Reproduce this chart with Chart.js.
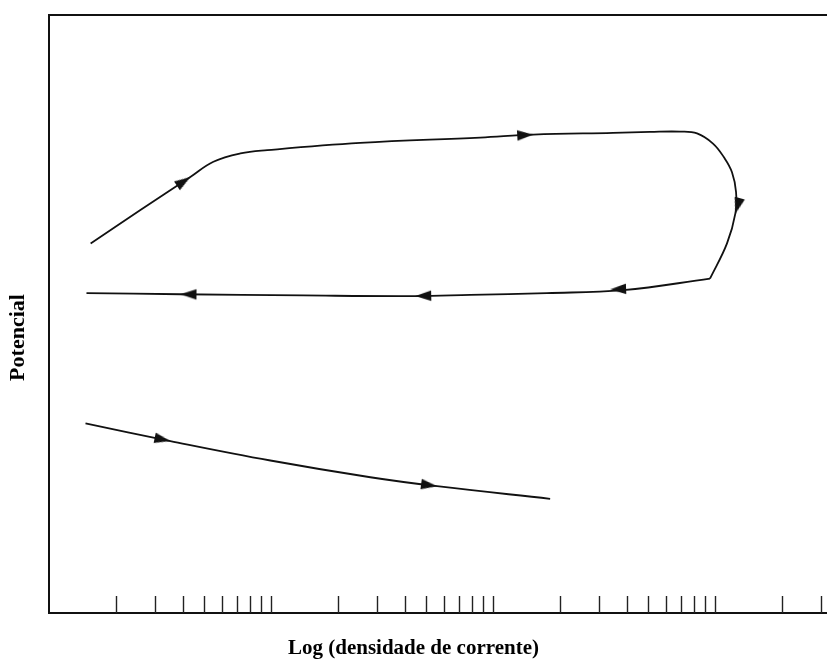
<!DOCTYPE html>
<html>
<head>
<meta charset="utf-8">
<script src="https://cdn.jsdelivr.net/npm/chart.js@4/dist/chart.umd.min.js"></script>
<style>
  html, body { margin: 0; padding: 0; background: #ffffff; overflow: hidden; }
  #wrap { width: 827px; height: 660px; overflow: hidden; }
  #chart { display: block; }
</style>
</head>
<body>
<div id="wrap"><canvas id="chart" width="827" height="660"></canvas></div>
<script>
// Polarisation curves: current density (log axis) vs potential (arbitrary units)

// Anodic forward sweep (rises, passive plateau, turns down at the reversal)
const forwardI = [1.54, 2.58, 4.33, 5.50, 7.28, 9.62, 25.2, 87.5, 151.6, 347, 509, 695, 829, 978, 1096, 1191, 1242, 1235, 1131, 948];
const forwardE = [0.618, 0.674, 0.729, 0.7545, 0.7685, 0.774, 0.786, 0.795, 0.800, 0.803, 0.8045, 0.805, 0.802, 0.785, 0.762, 0.737, 0.704, 0.669, 0.618, 0.559];

// Reverse sweep back towards low current density
const reverseI = [948, 386, 174.6, 78.9, 44.6, 13.97, 3.91, 1.475];
const reverseE = [0.559, 0.540, 0.535, 0.532, 0.530, 0.531, 0.533, 0.535];

// Lower (cathodic) branch
const cathodicI = [1.46, 3.52, 9.93, 28.0, 55.9, 180.7];
const cathodicE = [0.317, 0.2875, 0.255, 0.227, 0.212, 0.191];

// Arrow tips showing the sweep direction, and the curve each one sits on
const arrowI = [4.33, 151.6, 1235, 336.5, 44.6, 3.91, 3.52, 55.9];
const arrowE = [0.729, 0.800, 0.668, 0.541, 0.530, 0.533, 0.2875, 0.212];
const arrowCurve = [0, 0, 0, 1, 1, 1, 2, 2];

// Minor tick marks along the current-density axis
const axisTicks = [2, 3, 4, 5, 6, 7, 8, 9, 10,
                   20, 30, 40, 50, 60, 70, 80, 90, 100,
                   200, 300, 400, 500, 600, 700, 800, 900, 1000,
                   2000, 3000];

const xMin = 1, xMax = 3190;
const yMin = 0, yMax = 1;

const toPoints = (xs, ys) => xs.map((v, i) => ({ x: v, y: ys[i] }));

const INK = '#111111';

// Arrowhead sprite: tip sits at the sprite centre, body trails to the left
function makeArrow() {
  const c = document.createElement('canvas');
  c.width = 34; c.height = 12;
  const g = c.getContext('2d');
  g.fillStyle = INK;
  g.beginPath();
  g.moveTo(17, 6);
  g.lineTo(1, 0.8);
  g.lineTo(1, 11.2);
  g.closePath();
  g.fill();
  return c;
}
const arrowSprite = makeArrow();

// Orientation of an arrow = direction of the nearest curve segment on screen
function arrowAngle(ctx) {
  const chart = ctx.chart;
  const i = ctx.dataIndex;
  const xs = chart.scales.x, ys = chart.scales.y;
  if (!xs || !ys) return 0;
  const curve = chart.data.datasets[arrowCurve[i]].data;
  const px = xs.getPixelForValue(arrowI[i]);
  const py = ys.getPixelForValue(arrowE[i]);
  let best = Infinity, ang = 0;
  for (let k = 0; k < curve.length - 1; k++) {
    const ax = xs.getPixelForValue(curve[k].x), ay = ys.getPixelForValue(curve[k].y);
    const bx = xs.getPixelForValue(curve[k + 1].x), by = ys.getPixelForValue(curve[k + 1].y);
    const dx = bx - ax, dy = by - ay;
    const L2 = dx * dx + dy * dy || 1;
    let t = ((px - ax) * dx + (py - ay) * dy) / L2;
    t = Math.max(0, Math.min(1, t));
    const d = Math.hypot(ax + t * dx - px, ay + t * dy - py);
    if (d < best) { best = d; ang = Math.atan2(dy, dx) * 180 / Math.PI; }
  }
  return ang;
}

// Short inward tick marks on the bottom axis
const axisTickMarks = {
  id: 'axisTickMarks',
  afterDatasetsDraw(chart) {
    const { ctx, chartArea, scales } = chart;
    const xs = scales.x;
    ctx.save();
    ctx.strokeStyle = '#222';
    ctx.lineWidth = 1.4;
    ctx.beginPath();
    axisTicks.forEach(v => {
      const px = Math.round(xs.getPixelForValue(v)) + 0.5;
      ctx.moveTo(px, chartArea.bottom);
      ctx.lineTo(px, chartArea.bottom - 17);
    });
    ctx.stroke();
    ctx.restore();
  }
};

const lineStyle = {
  borderColor: INK,
  borderWidth: 1.8,
  pointRadius: 0,
  tension: 0.4,
  fill: false,
  showLine: true
};

new Chart(document.getElementById('chart'), {
  type: 'line',
  data: {
    datasets: [
      Object.assign({ label: 'Varredura direta', data: toPoints(forwardI, forwardE) }, lineStyle),
      Object.assign({ label: 'Varredura reversa', data: toPoints(reverseI, reverseE) }, lineStyle),
      Object.assign({ label: 'Ramo catódico', data: toPoints(cathodicI, cathodicE) }, lineStyle),
      {
        label: 'Sentido',
        data: toPoints(arrowI, arrowE),
        showLine: false,
        pointStyle: arrowSprite,
        pointRadius: 5,
        pointRotation: arrowAngle,
        borderColor: INK,
        backgroundColor: INK
      }
    ]
  },
  plugins: [axisTickMarks],
  options: {
    responsive: false,
    animation: false,
    devicePixelRatio: 1,
    events: [],
    clip: false,
    layout: { autoPadding: false, padding: { top: 15, right: 0, bottom: 0, left: 0 } },
    scales: {
      x: {
        type: 'logarithmic',
        position: 'bottom',
        min: xMin, max: xMax,
        grid: { display: false, drawTicks: false },
        ticks: { display: false },
        border: { display: true, color: INK, width: 2 }
      },
      xTop: {
        type: 'logarithmic',
        position: 'top',
        min: xMin, max: xMax,
        grid: { display: false, drawTicks: false },
        ticks: { display: false },
        border: { display: true, color: INK, width: 2 }
      },
      y: {
        type: 'linear',
        position: 'left',
        min: yMin, max: yMax,
        grid: { display: false, drawTicks: false },
        ticks: { display: false },
        border: { display: true, color: INK, width: 2 }
      }
    },
    plugins: {
      legend: { display: false },
      tooltip: { enabled: false },
      title: {
        display: true,
        position: 'bottom',
        text: 'Log (densidade de corrente)',
        color: '#000',
        font: { family: '"Liberation Serif", "Times New Roman", serif', size: 21, weight: 'bold', lineHeight: 1 },
        padding: { top: 25, bottom: 1 }
      },
      subtitle: {
        display: true,
        position: 'left',
        text: 'Potencial',
        color: '#000',
        font: { family: '"Liberation Serif", "Times New Roman", serif', size: 22, weight: 'bold', lineHeight: 1 },
        padding: { top: 7, bottom: 20 }
      }
    }
  }
});
</script>
</body>
</html>
